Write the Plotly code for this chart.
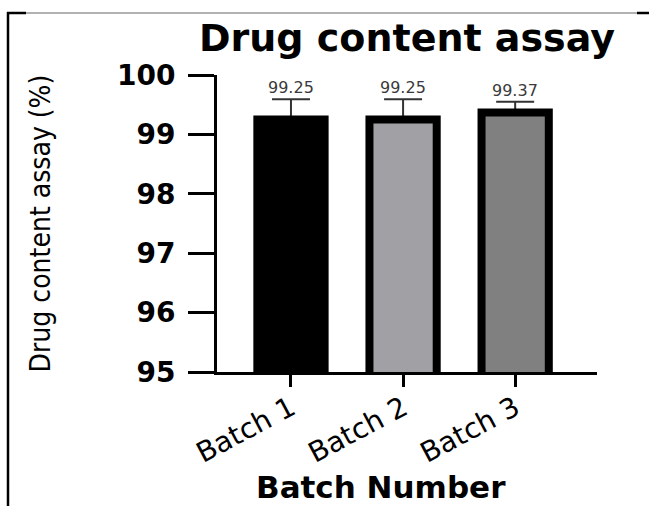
import plotly.graph_objects as go

# ---- data ----
categories = ["Batch 1", "Batch 2", "Batch 3"]
values = [99.25, 99.25, 99.37]
errors_up = [0.34, 0.34, 0.18]
bar_colors = ["#000000", "#a1a1a5", "#808080"]
y_ticks = [95, 96, 97, 98, 99, 100]
title_text = "Drug content assay"
x_title = "Batch Number"
y_title = "Drug content assay (%)"

W, H = 649, 506
L, R, T, B = 217, 52, 75, 134

def px_x(p):
    return (p - L) / (W - L - R)

def px_y(p):
    return (H - B - p) / (H - T - B)

fig = go.Figure()
# error bars (drawn underneath the bars so only the upper part shows)
fig.add_trace(go.Bar(
    x=categories, y=values, width=0.6,
    marker=dict(color="rgba(0,0,0,0)", line=dict(width=0)),
    error_y=dict(type="data", symmetric=False, array=errors_up,
                 arrayminus=[0] * len(values), color="#333333",
                 thickness=2, width=19),
    showlegend=False, hoverinfo="skip",
))
fig.add_trace(go.Bar(
    x=categories, y=values, width=0.6,
    marker=dict(color=bar_colors, line=dict(color="#000000", width=8)),
    showlegend=False,
))

for c, v, e in zip(categories, values, errors_up):
    fig.add_annotation(x=c, y=v + e, text=f"{v:.2f}", showarrow=False,
                       yanchor="bottom", yshift=0,
                       font=dict(family="DejaVu Sans", size=16, color="#3a3a3a"))

bold = "DejaVu Sans"
fig.add_annotation(xref="paper", yref="paper", x=px_x(381), y=px_y(487),
                   xanchor="center", yanchor="middle", showarrow=False,
                   text=x_title,
                   font=dict(family=bold, size=31, color="#000000", weight="bold"))

fig.update_layout(
    width=W, height=H,
    margin=dict(l=L, r=R, t=T, b=B, autoexpand=False),
    paper_bgcolor="white", plot_bgcolor="white",
    barmode="overlay",
    title=dict(text=title_text, x=0.5, xref="paper", xanchor="center",
               y=1 - 38 / H, yref="container", yanchor="middle",
               font=dict(family=bold, size=38, color="#000000", weight="bold")),
)

fig.update_xaxes(
    type="category", range=[-0.66, 2.73],
    showline=True, linecolor="#000000", linewidth=3,
    ticks="outside", ticklen=12, tickwidth=3, tickcolor="#000000",
    tickangle=-28, ticklabelstandoff=-6,
    tickfont=dict(family="DejaVu Sans", size=28, color="#000000"),
    showgrid=False, zeroline=False,
)
fig.update_yaxes(
    range=[95, 100], tickvals=y_ticks,
    showline=True, linecolor="#000000", linewidth=3,
    ticks="outside", ticklen=26, tickwidth=3, tickcolor="#000000",
    ticklabelstandoff=7,
    tickfont=dict(family=bold, size=28, color="#000000", weight="bold"),
    showgrid=False, zeroline=False,
    title=dict(text=y_title, standoff=59,
               font=dict(family="Liberation Sans Narrow, DejaVu Sans Condensed, Arial Narrow, sans-serif",
                         size=28, color="#000000")),
)

# decorative frame around the figure
frame = [
    (7, 13, 637, 13, "#666666", 1.2),
    (7, 13, 26, 13, "#000000", 2.5),
    (637, 13, 649, 13, "#000000", 2.5),
    (8, 12, 8, 506, "#000000", 2.5),
]
for x0, y0, x1, y1, col, lw in frame:
    fig.add_shape(type="line", xref="paper", yref="paper",
                  x0=px_x(x0), y0=px_y(y0), x1=px_x(x1), y1=px_y(y1),
                  line=dict(color=col, width=lw), layer="above")

fig.write_html("out.html", config={"displayModeBar": False},
               post_script="document.body.style.margin='0px';")
